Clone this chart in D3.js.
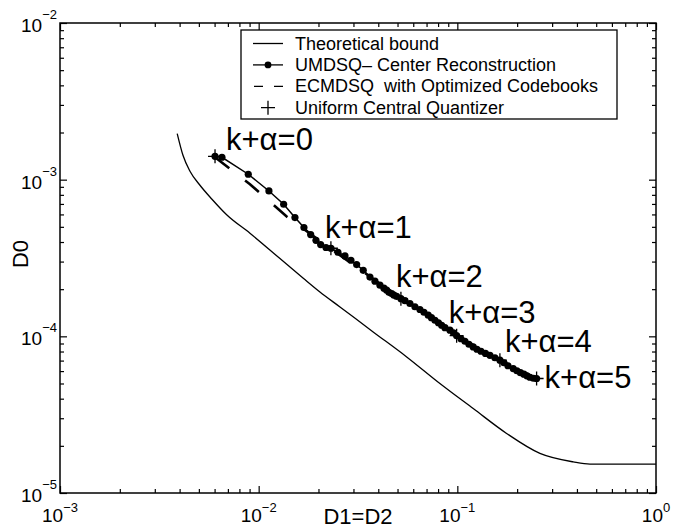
<!DOCTYPE html>
<html>
<head>
<meta charset="utf-8">
<script src="https://cdn.jsdelivr.net/npm/d3@7/dist/d3.min.js"></script>
<style>
  body { margin: 0; background: #fff; }
  svg { display: block; font-family: "Liberation Sans", Arial, Helvetica, sans-serif; }
</style>
</head>
<body>
<script>
"use strict";

// theoretical bound
var theoryD1 = [0.00389, 0.004159, 0.004511, 0.005064, 0.005821, 0.0069, 0.00904, 0.0128, 0.01677, 0.02034,
                0.02566, 0.0377, 0.0556, 0.0817, 0.1202, 0.177, 0.2604, 0.383, 0.465, 1];
var theoryD0 = [1.97e-3, 1.431e-3, 1.132e-3, 9.21e-4, 7.50e-4, 5.97e-4, 4.55e-4, 3.136e-4, 2.349e-4, 1.92e-4,
                1.54e-4, 1.067e-4, 7.39e-5, 5.0e-5, 3.46e-5, 2.40e-5, 1.79e-5, 1.58e-5, 1.53e-5, 1.53e-5];

// UMDSQ - center reconstruction
var umdsqD1 = [0.00603, 0.006535, 0.008866, 0.011264, 0.01336, 0.01523, 0.0169, 0.01827, 0.01943, 0.02051, 0.02182, 0.02312,
               0.02507, 0.02719, 0.02914, 0.03113, 0.0336, 0.03632, 0.03848, 0.04078, 0.04272, 0.04407, 0.04527, 0.04671, 0.04796, 0.04949, 0.05202,
               0.05448, 0.05773, 0.06116, 0.06482, 0.0679, 0.07136, 0.07405, 0.07713, 0.08032, 0.08336, 0.0866, 0.09178, 0.09559, 0.0992,
               0.1043, 0.1092, 0.1144, 0.1202, 0.1255, 0.1315, 0.1385, 0.1459, 0.1546, 0.1638,
               0.1716, 0.1798, 0.1911, 0.1995, 0.2078, 0.2163, 0.224, 0.2319, 0.2415, 0.2506];
var umdsqD0 = [1.41e-3, 1.39e-3, 1.083e-3, 8.47e-4, 6.97e-4, 5.73e-4, 4.95e-4, 4.46e-4, 4.10e-4, 3.85e-4, 3.69e-4, 3.65e-4,
               3.44e-4, 3.26e-4, 3.06e-4, 2.87e-4, 2.64e-4, 2.39e-4, 2.25e-4, 2.12e-4, 2.03e-4, 1.97e-4, 1.91e-4, 1.875e-4, 1.83e-4, 1.80e-4, 1.74e-4,
               1.688e-4, 1.62e-4, 1.545e-4, 1.483e-4, 1.425e-4, 1.364e-4, 1.315e-4, 1.267e-4, 1.221e-4, 1.177e-4, 1.135e-4, 1.094e-4, 1.054e-4, 1.009e-4,
               9.65e-5, 9.30e-5, 8.90e-5, 8.56e-5, 8.27e-5, 8.03e-5, 7.78e-5, 7.57e-5, 7.30e-5, 7.04e-5,
               6.78e-5, 6.49e-5, 6.23e-5, 6.03e-5, 5.86e-5, 5.73e-5, 5.60e-5, 5.48e-5, 5.40e-5, 5.38e-5];

// ECMDSQ with optimized codebooks
var ecmdsqD1 = [0.00603, 0.00904, 0.01388, 0.0231, 0.0520, 0.0992, 0.1638, 0.2506];
var ecmdsqD0 = [1.39e-3, 9.35e-4, 5.80e-4, 3.62e-4, 1.74e-4, 1.009e-4, 7.04e-5, 5.38e-5];

// uniform central quantizer
var uniformD1 = [0.00603, 0.0231, 0.0520, 0.0992, 0.1638, 0.2506];
var uniformD0 = [1.41e-3, 3.65e-4, 1.74e-4, 1.009e-4, 7.04e-5, 5.38e-5];
var rateLabels = ["k+α=0", "k+α=1", "k+α=2", "k+α=3", "k+α=4", "k+α=5"];

var xTickExps = [-3, -2, -1, 0];
var yTickExps = [-5, -4, -3, -2];
var legendLabels = ["Theoretical bound", "UMDSQ\u2013 Center Reconstruction",
                    "ECMDSQ\u00a0 with Optimized Codebooks", "Uniform Central Quantizer"];

function zip(a, b){ return a.map(function(v, i){ return [v, b[i]]; }); }

function drawChart(){
  var width = 682,
      height = 529;
  var left = 60, right = 656, top = 23, bottom = 493;

  var svg = d3.select("body")
      .append("svg")
      .attr("width", width)
      .attr("height", height);

  var x = d3.scaleLog().domain([1e-3, 1]).range([left, right]);
  var y = d3.scaleLog().domain([1e-5, 1e-2]).range([bottom, top]);

  var line = d3.line()
      .x(function(d){ return x(d[0]); })
      .y(function(d){ return y(d[1]); });

  // ticks: majors + minors, all pointing inward
  var majorX = xTickExps.map(function(e){ return Math.pow(10, e); });
  var majorY = yTickExps.map(function(e){ return Math.pow(10, e); });
  var minorX = [], minorY = [];
  majorX.slice(0, -1).forEach(function(m){ for (var k = 2; k < 10; k++) minorX.push(m * k); });
  majorY.slice(0, -1).forEach(function(m){ for (var k = 2; k < 10; k++) minorY.push(m * k); });

  function addAxis(gen, scale, vals, size, tx, ty){
    svg.append("g")
        .attr("class", "tick-axis")
        .attr("transform", "translate(" + tx + "," + ty + ")")
        .call(gen(scale).tickValues(vals).tickSize(-size).tickFormat(""))
        .call(function(g){ g.select(".domain").remove(); })
        .selectAll("line")
          .attr("stroke", "#000")
          .attr("stroke-width", 1.2);
  }
  addAxis(d3.axisBottom, x, majorX, 7, 0, bottom);
  addAxis(d3.axisBottom, x, minorX, 4, 0, bottom);
  addAxis(d3.axisTop, x, majorX, 7, 0, top);
  addAxis(d3.axisTop, x, minorX, 4, 0, top);
  addAxis(d3.axisLeft, y, majorY, 7, left, 0);
  addAxis(d3.axisLeft, y, minorY, 4, left, 0);
  addAxis(d3.axisRight, y, majorY, 7, right, 0);
  addAxis(d3.axisRight, y, minorY, 4, right, 0);

  svg.append("rect")
      .attr("x", left).attr("y", top)
      .attr("width", right - left).attr("height", bottom - top)
      .attr("fill", "none")
      .attr("stroke", "#000")
      .attr("stroke-width", 1.5);

  // tick labels 10^n
  var xl = svg.append("g").selectAll("text")
      .data(xTickExps).enter().append("text")
        .attr("x", function(d){ return x(Math.pow(10, d)); })
        .attr("y", bottom + 29)
        .attr("text-anchor", "middle")
        .style("font-size", "19px");
  xl.append("tspan").text("10");
  xl.append("tspan").attr("dy", -10).style("font-size", "13px")
      .text(function(d){ return d === 0 ? "0" : "\u2212" + Math.abs(d); });

  var yl = svg.append("g").selectAll("text")
      .data(yTickExps).enter().append("text")
        .attr("x", left - 3)
        .attr("y", function(d){ return y(Math.pow(10, d)) + 9; })
        .attr("text-anchor", "end")
        .style("font-size", "19px");
  yl.append("tspan").text("10");
  yl.append("tspan").attr("dy", -13).style("font-size", "13px")
      .text(function(d){ return "\u2212" + Math.abs(d); });

  // axis titles
  svg.append("text")
      .attr("x", (left + right) / 2).attr("y", 524)
      .attr("text-anchor", "middle")
      .style("font-size", "22px")
      .text("D1=D2");
  svg.append("text")
      .attr("transform", "translate(28,254) rotate(-90)")
      .attr("text-anchor", "middle")
      .style("font-size", "22px")
      .text("D0");

  // theoretical bound
  svg.append("path")
      .datum(zip(theoryD1, theoryD0))
      .attr("d", line.curve(d3.curveMonotoneX))
      .attr("fill", "none")
      .attr("stroke", "#000")
      .attr("stroke-width", 1.3);
  line.curve(d3.curveLinear);

  // ECMDSQ dashed
  svg.append("path")
      .datum(zip(ecmdsqD1, ecmdsqD0))
      .attr("d", line)
      .attr("fill", "none")
      .attr("stroke", "#000")
      .attr("stroke-width", 2.6)
      .attr("stroke-dasharray", "18,20");

  // UMDSQ line + dots
  var umdsq = zip(umdsqD1, umdsqD0);
  svg.append("path")
      .datum(umdsq)
      .attr("d", line)
      .attr("fill", "none")
      .attr("stroke", "#000")
      .attr("stroke-width", 1.5);
  svg.append("g").selectAll("circle")
      .data(umdsq).enter().append("circle")
        .attr("cx", function(d){ return x(d[0]); })
        .attr("cy", function(d){ return y(d[1]); })
        .attr("r", 3.6)
        .attr("fill", "#000");

  // uniform quantizer pluses
  var uni = zip(uniformD1, uniformD0);
  svg.append("g").selectAll("path")
      .data(uni).enter().append("path")
        .attr("d", function(d){
          var cx = x(d[0]), cy = y(d[1]);
          return "M" + (cx - 7) + "," + cy + "H" + (cx + 7) + "M" + cx + "," + (cy - 7) + "V" + (cy + 7);
        })
        .attr("stroke", "#000")
        .attr("stroke-width", 1.3);

  var labelDx = [11, -6, -5, -8, 5, 8],
      labelDy = [-6, -10, -12, -13, -8, 9];
  svg.append("g").selectAll("text")
      .data(uni).enter().append("text")
        .attr("x", function(d, i){ return x(d[0]) + labelDx[i]; })
        .attr("y", function(d, i){ return y(d[1]) + labelDy[i]; })
        .style("font-size", "31px")
        .text(function(d, i){ return rateLabels[i]; });

  // legend
  var lg = svg.append("g").attr("class", "legend");
  lg.append("rect")
      .attr("x", 241).attr("y", 30)
      .attr("width", 376).attr("height", 89)
      .attr("fill", "#fff")
      .attr("stroke", "#000")
      .attr("stroke-width", 1.3);
  var rows = lg.selectAll("g.row")
      .data(legendLabels).enter().append("g")
        .attr("class", "row")
        .attr("transform", function(d, i){ return "translate(0," + (43.5 + i * 21.4) + ")"; });
  rows.append("text")
      .attr("x", 295).attr("y", 6)
      .style("font-size", "18px")
      .text(function(d){ return d; });
  rows.filter(function(d, i){ return i < 2; }).append("line")
      .attr("x1", 253).attr("x2", 283)
      .attr("stroke", "#000").attr("stroke-width", 1.3);
  rows.filter(function(d, i){ return i === 1; }).append("circle")
      .attr("cx", 268).attr("r", 3.4).attr("fill", "#000");
  rows.filter(function(d, i){ return i === 2; }).append("line")
      .attr("x1", 254).attr("x2", 283)
      .attr("stroke", "#000").attr("stroke-width", 1.3)
      .attr("stroke-dasharray", "9,11");
  rows.filter(function(d, i){ return i === 3; }).append("path")
      .attr("d", "M261,0H275M268,-7V7")
      .attr("stroke", "#000").attr("stroke-width", 1.3);
}

drawChart();
</script>
</body>
</html>
